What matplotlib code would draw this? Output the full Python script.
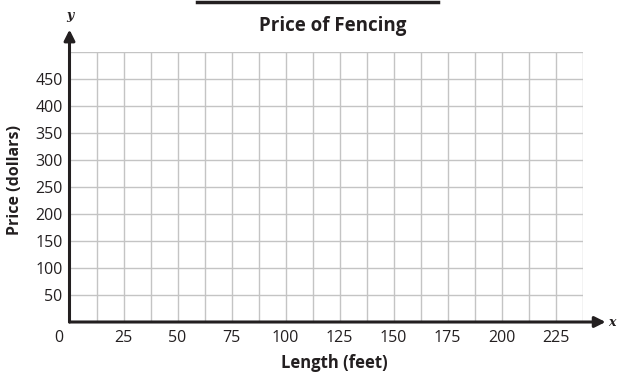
import matplotlib
matplotlib.use("Agg")
import matplotlib.pyplot as plt
from matplotlib.lines import Line2D
import numpy as np

# Axis setup (an empty grid)
TITLE = "Price of Fencing"
X_LABEL = "Length (feet)"
Y_LABEL = "Price (dollars)"
X_MAX = 237.5
Y_MAX = 500
X_GRID_STEP = 12.5
Y_GRID_STEP = 50
X_TICKS = [25, 50, 75, 100, 125, 150, 175, 200, 225]
Y_TICKS = [50, 100, 150, 200, 250, 300, 350, 400, 450]

INK = "#231f20"
GRID = "#c4c4c4"

plt.rcParams.update({
    "font.family": ["Open Sans", "DejaVu Sans"],
    "font.size": 11.5,
    "text.color": INK,
})

W, H = 618, 373
fig = plt.figure(figsize=(W / 100, H / 100), dpi=100)
left, right, top, bottom = 69.5, 582.5, 52, 322
ax = fig.add_axes([left / W, 1 - bottom / H, (right - left) / W, (bottom - top) / H])

ax.set_xlim(0, X_MAX)
ax.set_ylim(0, Y_MAX)

for xv in np.arange(X_GRID_STEP, X_MAX + 0.01, X_GRID_STEP):
    ax.axvline(xv, color=GRID, lw=1.0, zorder=1)
for yv in np.arange(Y_GRID_STEP, Y_MAX + 0.01, Y_GRID_STEP):
    ax.axhline(yv, color=GRID, lw=1.0, zorder=1)

for s in ax.spines.values():
    s.set_visible(False)

ax.set_xticks(X_TICKS)
ax.set_xticklabels([str(v) for v in X_TICKS], color=INK)
ax.set_yticks(Y_TICKS)
ax.set_yticklabels([str(v) for v in Y_TICKS], color=INK)
ax.tick_params(axis="both", length=0)
ax.tick_params(axis="x", pad=6)
ax.tick_params(axis="y", pad=5)

# origin label
ax.annotate("0", xy=(0, 0), xytext=(-8, -6), textcoords="offset points",
            ha="center", va="top", color=INK, fontsize=11.5)

# axes with arrowheads
ax.annotate("", xy=(1.045, 0), xytext=(0, 0), xycoords="axes fraction",
            arrowprops=dict(arrowstyle="-|>", color=INK, lw=2.2,
                            mutation_scale=16, shrinkA=0, shrinkB=0),
            annotation_clip=False, zorder=5)
ax.annotate("", xy=(0, 1.083), xytext=(0, 0), xycoords="axes fraction",
            arrowprops=dict(arrowstyle="-|>", color=INK, lw=2.2,
                            mutation_scale=16, shrinkA=0, shrinkB=0),
            annotation_clip=False, zorder=5)
fig.text(612 / W, 1 - 323 / H, "x", family="DejaVu Serif", style="italic",
         weight="bold", fontsize=9, ha="center", va="center", color=INK)
fig.text(70 / W, 1 - 15 / H, "y", family="DejaVu Serif", style="italic",
         weight="bold", fontsize=9, ha="center", va="center", color=INK)

fig.text(333 / W, 1 - 26 / H, TITLE, fontsize=13.5, weight="bold",
         ha="center", va="center", color=INK)
fig.text(334 / W, 1 - 363 / H, X_LABEL, fontsize=12, weight="bold",
         ha="center", va="center", color=INK)
fig.text(15 / W, 1 - 180 / H, Y_LABEL, fontsize=11.5, weight="bold",
         rotation=90, ha="center", va="center", color=INK)

# heavy rule above the title
fig.add_artist(Line2D([197 / W, 438 / W], [1 - 1.5 / H, 1 - 1.5 / H],
                      color=INK, lw=2.5, transform=fig.transFigure))

fig.savefig("out.png", dpi=100)
